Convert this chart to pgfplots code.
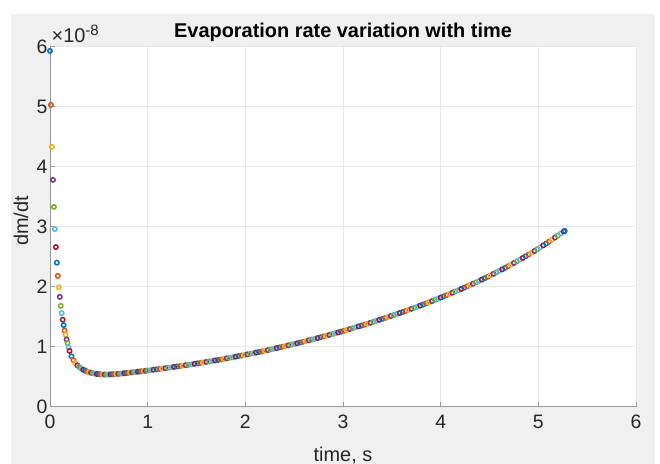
\documentclass[border=0pt]{standalone}
\usepackage{pgfplots}
\pgfplotsset{compat=1.18}
\usepackage{pgfplotstable}
\usepackage{fontspec}
\setmainfont{Liberation Sans}
\definecolor{figgray}{RGB}{240,240,240}
\definecolor{axgray}{RGB}{38,38,38}
\pgfplotstableread{
t y
0.00 5.93
0.01 5.03
0.02 4.33
0.03 3.78
0.04 3.33
0.05 2.96
0.06 2.66
0.07 2.40
0.08 2.18
0.09 1.99
0.10 1.83
0.11 1.68
0.12 1.56
0.13 1.45
0.14 1.36
0.15 1.27
0.16 1.20
0.17 1.12
0.18 1.06
0.19 0.99
0.20 0.93
0.22 0.84
0.24 0.775
0.26 0.725
0.28 0.69
0.30 0.66
0.32 0.635
0.34 0.615
0.36 0.60
0.38 0.585
0.40 0.575
0.42 0.565
0.44 0.557
0.46 0.551
0.48 0.546
0.50 0.542
0.52 0.539
0.54 0.537
0.56 0.536
0.58 0.536
0.60 0.537
0.62 0.538
0.64 0.540
0.66 0.542
0.68 0.545
0.70 0.548
0.72 0.551
0.74 0.554
0.76 0.557
0.78 0.561
0.80 0.564
0.82 0.568
0.84 0.571
0.86 0.575
0.88 0.579
0.90 0.583
0.92 0.587
0.94 0.591
0.96 0.595
0.98 0.599
1.00 0.603
1.03 0.609
1.06 0.616
1.09 0.622
1.12 0.629
1.15 0.635
1.18 0.642
1.21 0.649
1.24 0.656
1.27 0.663
1.30 0.670
1.33 0.677
1.36 0.684
1.39 0.691
1.42 0.699
1.45 0.706
1.48 0.714
1.51 0.722
1.54 0.729
1.57 0.738
1.60 0.746
1.63 0.754
1.66 0.762
1.69 0.771
1.72 0.779
1.75 0.788
1.78 0.797
1.81 0.806
1.84 0.815
1.87 0.824
1.90 0.833
1.93 0.843
1.96 0.852
1.99 0.862
2.02 0.872
2.05 0.881
2.08 0.891
2.11 0.902
2.14 0.912
2.17 0.922
2.20 0.933
2.23 0.943
2.26 0.955
2.29 0.966
2.32 0.977
2.35 0.988
2.38 0.999
2.41 1.010
2.44 1.022
2.47 1.034
2.50 1.045
2.53 1.057
2.56 1.069
2.59 1.081
2.62 1.093
2.65 1.106
2.68 1.118
2.71 1.131
2.74 1.144
2.77 1.157
2.80 1.170
2.83 1.183
2.86 1.196
2.89 1.210
2.92 1.223
2.95 1.237
2.98 1.251
3.01 1.266
3.04 1.280
3.07 1.294
3.10 1.309
3.13 1.324
3.16 1.338
3.19 1.353
3.22 1.368
3.25 1.383
3.28 1.398
3.31 1.414
3.34 1.430
3.37 1.446
3.40 1.462
3.43 1.478
3.46 1.494
3.49 1.511
3.52 1.527
3.55 1.544
3.58 1.561
3.61 1.578
3.64 1.595
3.67 1.613
3.70 1.631
3.73 1.648
3.76 1.666
3.79 1.684
3.82 1.703
3.85 1.721
3.88 1.740
3.91 1.759
3.94 1.778
3.97 1.798
4.00 1.818
4.03 1.838
4.06 1.858
4.09 1.878
4.12 1.899
4.15 1.920
4.18 1.941
4.21 1.962
4.24 1.983
4.27 2.005
4.30 2.027
4.33 2.049
4.36 2.071
4.39 2.094
4.42 2.118
4.45 2.141
4.48 2.165
4.51 2.189
4.54 2.214
4.57 2.239
4.60 2.264
4.63 2.289
4.66 2.315
4.69 2.341
4.72 2.368
4.75 2.395
4.78 2.422
4.81 2.450
4.84 2.478
4.87 2.507
4.90 2.536
4.93 2.565
4.96 2.595
4.99 2.625
5.02 2.657
5.05 2.688
5.08 2.720
5.11 2.752
5.14 2.784
5.17 2.818
5.20 2.851
5.23 2.885
5.26 2.920
5.27 2.931
}\ratedata
\begin{document}
\begin{tikzpicture}
\path[use as bounding box] (0,0) rectangle (660bp,464bp);
\fill[figgray] (11bp,0) rectangle (655bp,450bp);
\begin{axis}[
  at={(50bp,57.3bp)}, anchor=south west,
  width=586bp, height=360bp, scale only axis,
  xmin=0, xmax=6, ymin=0, ymax=6,
  xtick={0,1,2,3,4,5,6}, ytick={0,1,2,3,4,5,6},
  axis x line*=bottom, axis y line*=left,
  axis line style={draw=black!40, line width=0.7bp, -},
  tick style={draw=black!40, line width=0.7bp},
  tick align=inside, major tick length=5bp,
  grid=major, major grid style={draw=black!9, line width=0.7bp},
  axis background/.style={fill=white},
  tick label style={font=\fontsize{19.5}{19.5}\selectfont, text=axgray},
  xticklabel style={yshift=-5bp},
  yticklabel style={xshift=1bp},
  /pgf/number format/assume math mode=true,
  clip=false,
  colormap={mlab}{rgb255(0cm)=(0,114,189) rgb255(1cm)=(217,83,25) rgb255(2cm)=(237,177,32) rgb255(3cm)=(126,47,142) rgb255(4cm)=(119,172,48) rgb255(5cm)=(77,190,238) rgb255(6cm)=(162,20,47) rgb255(7cm)=(162,20,47)},
  colormap access=piecewise constant,
  point meta min=0, point meta max=7,
]
\addplot[scatter, only marks, mark=o, mark size=2.2bp, line width=1.5bp,
  point meta={mod(\coordindex,7)+0.5},
  scatter/use mapped color={draw=mapped color, fill=none}]
  table[x=t, y=y] {\ratedata};
\end{axis}
\node[anchor=base, inner sep=0, font=\fontsize{20}{20}\selectfont\bfseries] at (343bp,426.7bp) {Evaporation rate variation with time};
\node[anchor=base west, inner sep=0, font=\fontsize{20}{20}\selectfont, text=axgray] at (51.5bp,421.3bp) {×10\raisebox{7.5bp}{\fontsize{15}{15}\selectfont -8}};
\node[anchor=base, inner sep=0, font=\fontsize{20}{20}\selectfont, text=axgray] at (343bp,3bp) {time, s};
\node[rotate=90, anchor=center, inner sep=0, font=\fontsize{20}{20}\selectfont, text=axgray] at (21bp,243bp) {dm/dt};
\end{tikzpicture}
\end{document}
